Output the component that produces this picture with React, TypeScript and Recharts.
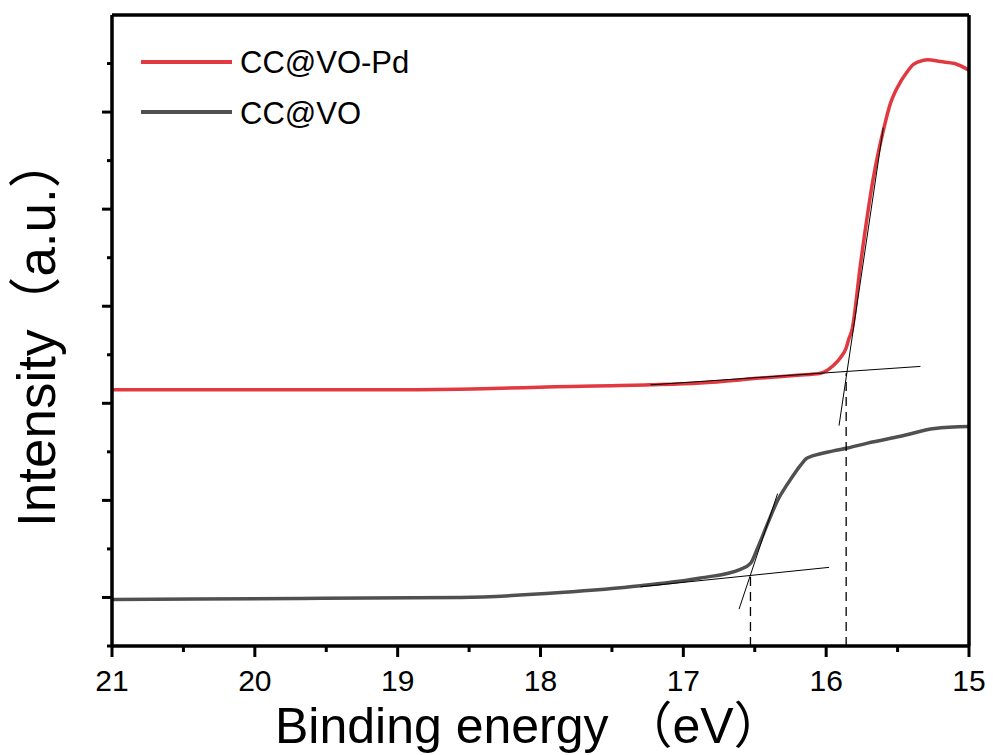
import React from 'react';
import { LineChart, Line, XAxis, YAxis, ReferenceLine, Legend } from 'recharts';

// Binding energy (eV) and intensity (a.u., offset)
const RED_X = [21.0, 20.5, 20.0, 19.5, 19.0, 18.4, 17.9, 17.23, 16.88, 16.46, 16.2, 16.04, 15.95, 15.9, 15.86, 15.84, 15.82, 15.76, 15.67, 15.6, 15.55, 15.52, 15.48, 15.44, 15.39, 15.35, 15.29, 15.2, 15.1, 15.0];
const RED_Y = [3.14, 3.14, 3.14, 3.14, 3.14, 3.15, 3.17, 3.19, 3.21, 3.26, 3.29, 3.31, 3.39, 3.47, 3.57, 3.67, 3.75, 4.43, 5.32, 5.81, 6.09, 6.2, 6.31, 6.4, 6.49, 6.52, 6.54, 6.52, 6.5, 6.43];

const GRAY_X = [21.0, 19.68, 18.56, 17.86, 17.3, 16.88, 16.6, 16.53, 16.48, 16.41, 16.34, 16.27, 16.22, 16.18, 16.14, 16.09, 15.95, 15.85, 15.71, 15.48, 15.24, 15.0];
const GRAY_Y = [0.98, 0.99, 1.0, 1.05, 1.12, 1.2, 1.29, 1.35, 1.51, 1.76, 2.0, 2.17, 2.28, 2.36, 2.43, 2.46, 2.51, 2.54, 2.59, 2.66, 2.74, 2.76];

// tangent construction lines (start / end points)
const RED_BASE = [{ x: 17.23, y: 3.19 }, { x: 15.34, y: 3.38 }];
const RED_EDGE = [{ x: 15.91, y: 2.77 }, { x: 15.6, y: 5.84 }];
const GRAY_BASE = [{ x: 17.3, y: 1.11 }, { x: 15.98, y: 1.31 }];
const GRAY_EDGE = [{ x: 16.61, y: 0.88 }, { x: 16.34, y: 2.07 }];
const RED_ONSET = { x: 15.86, y: 3.31 };
const GRAY_ONSET = { x: 16.53, y: 1.24 };

const X_TICKS = [15, 15.5, 16, 16.5, 17, 17.5, 18, 18.5, 19, 19.5, 20, 20.5, 21];
const Y_TICKS = [0.5, 1, 1.5, 2, 2.5, 3, 3.5, 4, 4.5, 5, 5.5, 6, 6.5];
const X_DOMAIN = [15, 21];
const Y_DOMAIN = [0.5, 7];

const SERIES = [
  { name: 'CC@VO-Pd', color: '#E2383F', xs: RED_X, ys: RED_Y },
  { name: 'CC@VO', color: '#505050', xs: GRAY_X, ys: GRAY_Y },
];

const FONT = '"Liberation Sans", Arial, "Noto Sans CJK SC", sans-serif';

function XTick({ x, y, payload }: any) {
  const v = payload.value;
  const major = Number.isInteger(v);
  return (
    <g>
      <line x1={x} y1={y} x2={x} y2={y + (major ? 11 : 6)} stroke="#000" strokeWidth={3} />
      {major && (
        <text x={x} y={y + 45} textAnchor="middle" fontSize={30} fontFamily={FONT} fill="#000">{v}</text>
      )}
    </g>
  );
}

function YTick({ x, y, payload }: any) {
  const major = Number.isInteger(payload.value);
  return <line x1={x - (major ? 10 : 5)} y1={y} x2={x} y2={y} stroke="#000" strokeWidth={3} />;
}

function XTitle() {
  return (
    <text x={275} y={743} fontSize={50} fontFamily={FONT} fill="#000">Binding energy （eV）</text>
  );
}

function YTitle() {
  return (
    <text x={55} y={527} transform="rotate(-90, 55, 527)" fontSize={53} fontFamily={FONT} fill="#000">Intensity（a.u.）</text>
  );
}

function LegendBox() {
  return (
    <svg width={460} height={150}>
      {SERIES.map((s, i) => (
        <g key={s.name}>
          <line x1={141} x2={232} y1={62 + i * 50} y2={62 + i * 50} stroke={s.color} strokeWidth={4} />
          <text x={240} y={73 + i * 51} fontSize={31} fontFamily={FONT} fill="#000">{s.name}</text>
        </g>
      ))}
    </svg>
  );
}

export default function App() {
  const axisStroke = { stroke: '#000', strokeWidth: 3.5 };
  const tangent = { stroke: '#000', strokeWidth: 1 };
  const dashed = { stroke: '#000', strokeWidth: 1.3, strokeDasharray: '9 6' };

  return (
    <div style={{ position: 'absolute', left: 0, top: 0, background: '#fff' }}>
      <LineChart width={993} height={755} margin={{ top: 14, right: 23, left: 111, bottom: 108 }}>
        <XAxis xAxisId="b" type="number" dataKey="x" domain={X_DOMAIN} reversed ticks={X_TICKS} interval={0}
          height={1} tickSize={0} tickMargin={0} tickLine={false} axisLine={axisStroke}
          tick={(p: any) => <XTick {...p} />} allowDataOverflow label={(p: any) => <XTitle />} />
        <XAxis xAxisId="t" orientation="top" type="number" domain={X_DOMAIN} reversed height={1}
          tick={false} tickLine={false} axisLine={axisStroke} allowDataOverflow />
        <YAxis yAxisId="l" type="number" domain={Y_DOMAIN} ticks={Y_TICKS} interval={0} width={1}
          tickSize={0} tickMargin={0} tickLine={false} axisLine={axisStroke}
          tick={(p: any) => <YTick {...p} />} allowDataOverflow label={(p: any) => <YTitle />} />
        <YAxis yAxisId="r" orientation="right" type="number" domain={Y_DOMAIN} width={1}
          tick={false} tickLine={false} axisLine={axisStroke} allowDataOverflow />
        <Legend layout="horizontal" verticalAlign="middle" align="center"
          wrapperStyle={{ left: 0, top: 0, width: 460, height: 150 }} content={() => <LegendBox />} />
        {SERIES.map(s => (
          <Line key={s.name} xAxisId="b" yAxisId="l" name={s.name} type="monotone"
            data={s.xs.map((x, i) => ({ x, y: s.ys[i] }))} dataKey="y"
            stroke={s.color} strokeWidth={3.5} dot={false} isAnimationActive={false} />
        ))}
        <ReferenceLine xAxisId="b" yAxisId="l" segment={RED_BASE} {...tangent} ifOverflow="visible" />
        <ReferenceLine xAxisId="b" yAxisId="l" segment={RED_EDGE} {...tangent} ifOverflow="visible" />
        <ReferenceLine xAxisId="b" yAxisId="l" segment={GRAY_BASE} {...tangent} ifOverflow="visible" />
        <ReferenceLine xAxisId="b" yAxisId="l" segment={GRAY_EDGE} {...tangent} ifOverflow="visible" />
        <ReferenceLine xAxisId="b" yAxisId="l" segment={[{ x: RED_ONSET.x, y: Y_DOMAIN[0] }, RED_ONSET]} {...dashed} ifOverflow="visible" />
        <ReferenceLine xAxisId="b" yAxisId="l" segment={[{ x: GRAY_ONSET.x, y: Y_DOMAIN[0] }, GRAY_ONSET]} {...dashed} ifOverflow="visible" />
      </LineChart>
    </div>
  );
}
